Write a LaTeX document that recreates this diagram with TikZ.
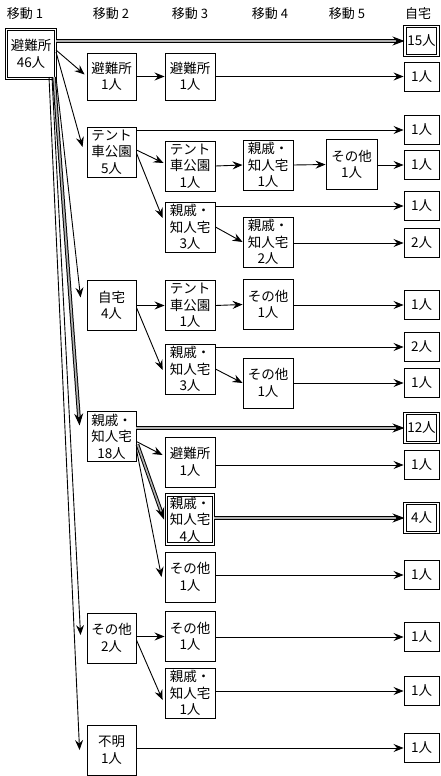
\documentclass[tikz,border=0pt]{standalone}
\usepackage{fontspec}
\newfontfamily\jp{Noto Sans CJK JP}
\usetikzlibrary{arrows.meta,calc}
\begin{document}
\begin{tikzpicture}[x=1pt,y=-1pt,
  box/.style={draw,line width=0.9pt,inner sep=0pt,align=center,
    font=\jp\fontsize{13.5}{16.5}\selectfont,minimum width=50pt,minimum height=50pt},
  bigbox/.style={box,line width=1pt,double,double distance=1.4pt},
  endbox/.style={box,minimum width=35pt,minimum height=29pt},
  endthick/.style={endbox,line width=1pt,double,double distance=1.3pt},
  head/.style={font=\jp\fontsize{13}{15}\selectfont,inner sep=0pt},
  arr/.style={line width=0.9pt,-{Stealth[length=10pt,width=8pt,inset=3.5pt]}},
  thickarr/.style={line width=1pt,double=gray!60,double distance=1.6pt,
    -{Stealth[length=12pt,width=9pt,inset=4pt]}}
]
\useasboundingbox (0,0) rectangle (440,776);
% headers
\node[head] (h1) at (25,14) {移動\hspace{3pt}1};
\node[head] (h2) at (111,14) {移動\hspace{3pt}2};
\node[head] (h3) at (190,14) {移動\hspace{3pt}3};
\node[head] (h4) at (270,14) {移動\hspace{3pt}4};
\node[head] (h5) at (347,14) {移動\hspace{3pt}5};
\node[head] (h6) at (418,14) {自宅};
% column 1
\node[bigbox,minimum width=49pt,minimum height=49pt] (A) at (31,54) {避難所\\46人};
% column 2
\node[box,minimum width=49pt,minimum height=47pt] (B1) at (111.5,76.5) {避難所\\1人};
\node[box,minimum width=49pt] (B2) at (111.5,152) {テント\\車公園\\5人};
\node[box,minimum width=49pt] (B3) at (111.5,305.5) {自宅\\4人};
\node[box,minimum width=49pt] (B4) at (111.5,436.5) {親戚・\\知人宅\\18人};
\node[box,minimum width=49pt] (B5) at (111.5,638) {その他\\2人};
\node[box,minimum width=49pt] (B6) at (111.5,750) {不明\\1人};
% column 3
\node[box,minimum height=47pt] (C1) at (190,76.5) {避難所\\1人};
\node[box] (C2) at (190,166) {テント\\車公園\\1人};
\node[box] (C3) at (190,227) {親戚・\\知人宅\\3人};
\node[box] (C4) at (190,305.5) {テント\\車公園\\1人};
\node[box] (C5) at (190,369) {親戚・\\知人宅\\3人};
\node[box] (C6) at (190,462) {避難所\\1人};
\node[bigbox,minimum width=47pt,minimum height=49pt] (C7) at (190,519.5) {親戚・\\知人宅\\4人};
\node[box] (C8) at (190,577) {その他\\1人};
\node[box] (C9) at (190,636.5) {その他\\1人};
\node[box] (C10) at (190,693) {親戚・\\知人宅\\1人};
% column 4
\node[box] (D1) at (268,165) {親戚・\\知人宅\\1人};
\node[box] (D2) at (268,242) {親戚・\\知人宅\\2人};
\node[box] (D3) at (268,304.5) {その他\\1人};
\node[box] (D4) at (268,383) {その他\\1人};
% column 5
\node[box,minimum width=51pt] (E1) at (351.5,164.5) {その他\\1人};
% column 6
\node[endthick,minimum width=33pt] (F1) at (421.5,41) {15人};
\node[endbox] (F2) at (421.5,76.5) {1人};
\node[endbox] (F3) at (421.5,130) {1人};
\node[endbox] (F4) at (421.5,165) {1人};
\node[endbox] (F5) at (421.5,206) {1人};
\node[endbox] (F6) at (421.5,243) {2人};
\node[endbox] (F7) at (421.5,305) {1人};
\node[endbox] (F8) at (421.5,347) {2人};
\node[endbox] (F9) at (421.5,383) {1人};
\node[endthick,minimum width=33pt] (F10) at (421.5,428) {12人};
\node[endbox] (F11) at (421.5,465) {1人};
\node[endthick,minimum width=33pt] (F12) at (421.5,518) {4人};
\node[endbox] (F13) at (421.5,575) {1人};
\node[endbox] (F14) at (421.5,637) {1人};
\node[endbox] (F15) at (421.5,691) {1人};
\node[endbox] (F16) at (421.5,748) {1人};
% from column 1
\draw[thickarr] (A.east |- F1.west) -- (F1.west);
\draw[arr] ($(A.east)+(0,-4)$) -- ($(B1.west)+(-2,-2)$);
\draw[arr] ($(A.east)+(0,-2)$) -- ($(B2.west)+(-4,-5)$);
\draw[arr] ($(A.south east)+(0,-2)$) -- ($(B3.west)+(-6,-8)$);
\draw[thickarr] ($(A.south east)+(-2,-2)$) -- ($(B4.west)+(-7,-11)$);
\draw[arr] ($(A.south east)+(-4,-2)$) -- ($(B5.west)+(-6,-3)$);
\draw[arr] ($(A.south east)+(-7,-2)$) -- ($(B6.west)+(-7,0)$);
% from column 2
\draw[arr] (B1.east) -- (C1.west);
\draw[arr] (B2.east |- F3.west) -- (F3.west);
\draw[arr] ($(B2.east)+(0,-2)$) -- ($(C2.west)+(-1,-3)$);
\draw[arr] ($(B2.east)+(0,1)$) -- ($(C3.west)+(-2,-9)$);
\draw[arr] (B3.east) -- (C4.west);
\draw[arr] ($(B3.east)+(0,2)$) -- ($(C5.west)+(-2,1)$);
\draw[thickarr] (B4.east |- F10.west) -- (F10.west);
\draw[arr] ($(B4.east)+(0,5)$) -- ($(C6.west)+(-2,-7)$);
\draw[thickarr] ($(B4.east)+(1,8)$) -- ($(C7.west)+(-2,0)$);
\draw[arr] ($(B4.east)+(0,13)$) -- ($(C8.west)+(-3,0)$);
\draw[arr] (B5.east |- C9.west) -- (C9.west);
\draw[arr] ($(B5.east)+(0,2)$) -- ($(C10.west)+(-2,7)$);
\draw[arr] (B6.east |- F16.west) -- (F16.west);
% from column 3
\draw[arr] (C1.east) -- (F2.west);
\draw[arr] (C2.east) -- (D1.west);
\draw[arr] (C3.east |- F5.west) -- (F5.west);
\draw[arr] (C3.east) -- (D2.west);
\draw[arr] (C4.east) -- (D3.west);
\draw[arr] (C5.east |- F8.west) -- (F8.west);
\draw[arr] (C5.east) -- (D4.west);
\draw[arr] (C6.east |- F11.west) -- (F11.west);
\draw[thickarr] (C7.east |- F12.west) -- (F12.west);
\draw[arr] (C8.east |- F13.west) -- (F13.west);
\draw[arr] (C9.east |- F14.west) -- (F14.west);
\draw[arr] (C10.east |- F15.west) -- (F15.west);
% from columns 4 and 5
\draw[arr] (D1.east) -- (E1.west);
\draw[arr] (E1.east |- F4.west) -- (F4.west);
\draw[arr] (D2.east |- F6.west) -- (F6.west);
\draw[arr] (D3.east |- F7.west) -- (F7.west);
\draw[arr] (D4.east |- F9.west) -- (F9.west);
\end{tikzpicture}
\end{document}
